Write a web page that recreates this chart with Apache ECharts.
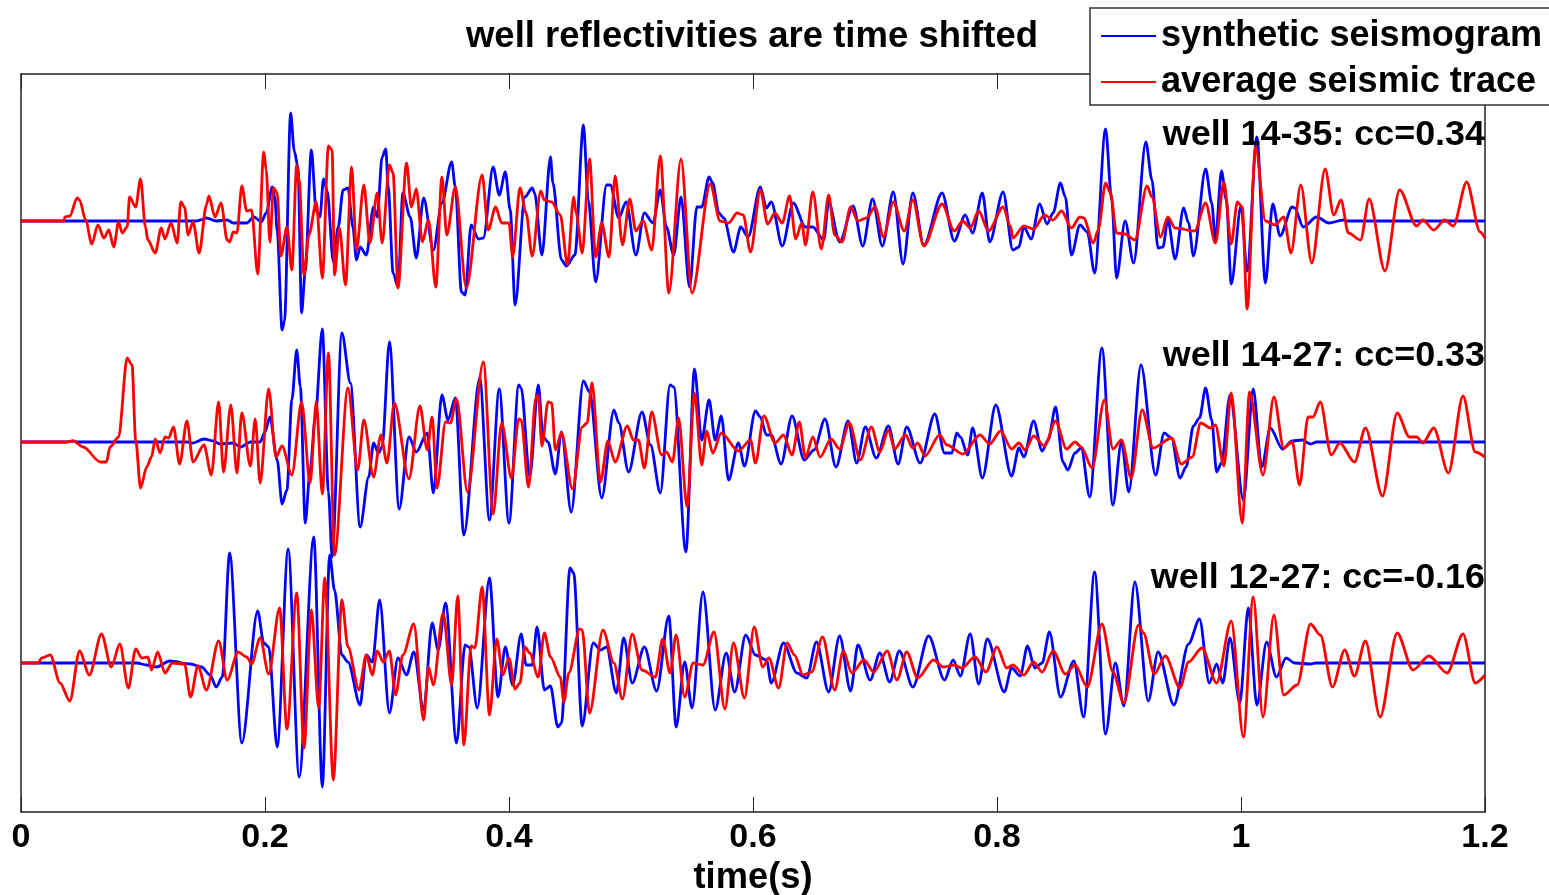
<!DOCTYPE html>
<html>
<head>
<meta charset="utf-8">
<style>
  html, body { margin: 0; padding: 0; background: #fff; overflow: hidden; }
  #main { width: 1549px; height: 895px; }
</style>
<script src="https://cdn.jsdelivr.net/npm/echarts@6/dist/echarts.min.js"></script>
</head>
<body>
<div id="main"></div>
<script>
// traces are [time in ms, amplitude] at the extrema
const synthetic1435 = [[0,0],[144,0],[147,1],[152,3],[160,0],[169,1],[174,-2],[185,-2],[191,4],[197,-1],[201,8],[206,34],[208,24],[210,-10],[214,-109],[216,-100],[221,108],[224,70],[227,54],[230,-92],[233,-50],[238,71],[242,10],[245,4],[248,42],[251,30],[256,-41],[260,-6],[264,31],[268,33],[272,-6],[275,-39],[278,-26],[283,-34],[289,14],[292,4],[296,64],[299,72],[301,34],[305,-52],[309,-66],[313,28],[319,4],[324,-37],[330,23],[338,-29],[345,18],[353,59],[356,34],[361,-71],[364,-74],[369,-4],[375,-18],[379,-17],[387,54],[392,26],[397,49],[401,11],[405,-84],[413,24],[419,33],[421,28],[427,-34],[434,64],[436,38],[443,-39],[447,-45],[454,-34],[461,96],[465,21],[471,-61],[480,36],[483,36],[490,3],[496,19],[504,-34],[511,8],[518,-2],[524,31],[529,-6],[535,-34],[541,24],[548,-66],[554,14],[558,14],[564,44],[567,38],[572,8],[576,3],[584,-31],[590,-6],[596,-16],[606,34],[611,13],[615,19],[624,-25],[633,18],[643,-6],[649,-6],[658,-19],[662,19],[671,-21],[682,15],[690,-25],[698,22],[706,-25],[715,29],[723,-43],[731,28],[740,-24],[755,28],[765,-20],[774,6],[780,-12],[788,28],[794,-21],[805,29],[813,-29],[818,-26],[822,-6],[828,-18],[835,17],[841,-3],[846,8],[852,38],[856,24],[861,-34],[868,-4],[874,-11],[880,-52],[889,92],[894,21],[898,-57],[905,0],[912,-42],[922,79],[927,41],[932,-27],[936,-26],[940,1],[946,-38],[953,13],[957,-2],[961,-35],[971,52],[976,18],[979,-19],[984,50],[988,21],[992,-63],[1000,15],[1005,-50],[1013,84],[1020,-62],[1026,17],[1032,-15],[1042,14],[1044,13],[1051,-6],[1062,4],[1072,-2],[1084,1],[1087,0],[1200,0]];
const average1435 = [[0,0],[35,0],[36,4],[40,5],[46,23],[48,21],[53,1],[58,-23],[63,-4],[68,-17],[72,-9],[76,-26],[80,-1],[83,-12],[87,-6],[89,24],[94,14],[98,42],[102,-6],[104,-19],[110,-32],[115,-7],[118,-18],[123,-2],[128,-22],[131,19],[134,14],[137,-14],[141,-1],[146,-32],[152,16],[154,25],[159,4],[164,18],[169,-19],[171,-21],[174,-11],[177,-12],[181,35],[185,10],[189,11],[194,-53],[199,69],[201,51],[204,-21],[207,33],[210,28],[213,-35],[218,-6],[222,-49],[226,56],[228,41],[232,-54],[236,-14],[242,19],[247,-57],[252,75],[255,71],[257,-54],[261,-7],[266,-64],[271,54],[275,-29],[281,36],[286,-22],[292,28],[296,-22],[302,56],[305,48],[309,-67],[316,58],[320,14],[324,32],[329,-21],[334,1],[340,-66],[345,44],[349,-14],[356,34],[365,-67],[378,46],[383,-9],[389,14],[394,-2],[400,-2],[403,-36],[409,33],[414,8],[419,-35],[426,30],[429,21],[435,19],[442,6],[448,-44],[453,24],[455,8],[460,-32],[466,62],[471,-36],[476,-2],[482,-36],[487,45],[493,-24],[499,22],[504,-10],[510,0],[517,-29],[524,65],[531,-72],[541,62],[550,-72],[565,37],[573,0],[580,-2],[587,8],[592,6],[598,-31],[606,31],[612,-3],[618,8],[624,-2],[630,25],[635,-18],[640,-2],[643,-24],[649,29],[656,-28],[662,26],[667,-14],[673,-21],[680,14],[686,0],[693,3],[700,14],[707,-16],[715,19],[724,-10],[731,21],[740,-25],[755,17],[765,-10],[772,0],[778,-7],[785,10],[793,-10],[805,14],[811,-5],[813,-17],[822,-5],[830,-8],[839,6],[846,1],[853,10],[861,-7],[868,4],[871,3],[879,-22],[883,-9],[889,38],[893,28],[898,-12],[905,-13],[913,-19],[923,35],[927,24],[934,-16],[940,4],[946,-7],[962,-10],[971,18],[979,-22],[986,39],[992,-23],[997,19],[1001,14],[1005,-88],[1012,74],[1020,0],[1028,-4],[1035,4],[1041,-32],[1049,36],[1058,-42],[1069,52],[1076,6],[1082,21],[1088,-12],[1098,-19],[1105,22],[1118,-50],[1130,31],[1144,-5],[1149,1],[1158,-9],[1167,1],[1174,-5],[1185,39],[1196,-11],[1200,-17]];

const synthetic1427 = [[0,0],[37,0],[42,1],[46,0],[136,0],[141,-1],[150,3],[158,1],[163,-2],[174,-1],[180,-5],[188,0],[196,0],[200,10],[204,25],[210,-18],[214,-62],[218,-48],[222,42],[226,92],[229,55],[233,-81],[237,-28],[241,22],[247,113],[252,-50],[255,-115],[263,109],[270,59],[278,-85],[285,-35],[289,-1],[293,-11],[296,-5],[302,100],[310,-67],[318,5],[324,-10],[333,9],[338,-51],[345,47],[350,22],[356,44],[363,-93],[376,64],[384,-78],[392,53],[400,-81],[408,57],[410,54],[417,-35],[424,57],[428,5],[432,0],[438,-32],[443,10],[451,-70],[461,61],[466,50],[476,-56],[486,32],[490,19],[498,-30],[509,30],[516,-3],[524,-51],[532,57],[535,55],[545,-110],[552,73],[558,2],[564,42],[569,2],[574,26],[580,-38],[588,-1],[593,-24],[602,31],[606,25],[611,7],[615,7],[623,-22],[632,26],[642,-18],[650,-8],[659,23],[668,-25],[678,21],[685,-21],[692,15],[701,-16],[711,16],[719,-22],[726,15],[737,-21],[749,28],[757,-11],[763,-11],[767,9],[770,5],[776,-13],[780,14],[788,-36],[799,37],[812,-34],[818,-6],[822,-15],[830,21],[837,-9],[842,2],[848,35],[854,-20],[858,-28],[864,-11],[869,-6],[876,-55],[886,94],[895,-63],[902,0],[908,-50],[918,77],[930,-33],[937,9],[943,4],[950,-36],[955,-25],[961,16],[966,24],[971,54],[976,22],[980,-30],[984,-21],[991,47],[1002,-58],[1010,53],[1017,-25],[1024,14],[1034,-7],[1042,1],[1050,2],[1057,-2],[1062,0],[1200,0]];
const average1427 = [[0,0],[37,0],[43,1],[51,-5],[65,-20],[70,-20],[73,-5],[80,5],[87,84],[91,77],[94,2],[98,-46],[103,-25],[107,-15],[110,3],[114,-11],[118,5],[121,4],[125,15],[130,-22],[136,21],[141,-20],[150,-3],[156,-33],[162,40],[166,-30],[172,37],[177,-31],[181,29],[188,-24],[192,23],[196,-41],[203,53],[209,-15],[214,-4],[222,-33],[230,40],[237,-41],[242,40],[247,-52],[252,89],[257,-113],[268,54],[276,-28],[281,22],[289,-35],[295,7],[300,-21],[306,39],[318,-37],[327,36],[333,-8],[337,25],[341,-46],[348,20],[352,19],[357,43],[366,-50],[379,80],[387,-72],[394,19],[402,-36],[408,23],[410,22],[416,-45],[422,44],[424,47],[427,-4],[432,40],[435,39],[438,-8],[443,9],[452,-47],[460,15],[464,19],[468,59],[475,-40],[481,1],[487,-20],[497,16],[502,2],[506,2],[511,-26],[517,30],[525,-13],[529,-10],[534,-20],[539,24],[546,-65],[552,49],[558,-23],[562,11],[567,-11],[574,9],[588,-9],[598,2],[602,-21],[609,26],[618,-1],[625,7],[632,-13],[638,20],[643,-16],[649,5],[655,-15],[664,3],[671,-7],[679,19],[688,-18],[697,15],[704,-10],[711,12],[716,-7],[725,7],[731,-6],[735,-1],[741,-14],[753,7],[759,-3],[772,-12],[786,7],[794,-2],[803,11],[812,-7],[818,-1],[823,-8],[830,6],[839,-4],[848,21],[857,-7],[864,0],[869,-5],[878,-26],[888,42],[895,-7],[902,2],[910,-36],[919,32],[928,-6],[943,4],[951,-22],[960,-15],[967,19],[975,14],[979,17],[986,-24],[992,49],[1001,-81],[1007,50],[1018,-33],[1027,45],[1035,-6],[1042,0],[1048,-43],[1055,25],[1059,25],[1065,40],[1074,-13],[1081,-1],[1093,-20],[1102,14],[1116,-54],[1128,29],[1138,5],[1144,5],[1149,-1],[1158,14],[1170,-31],[1182,46],[1192,-10],[1200,-15]];

const synthetic1227 = [[0,0],[87,0],[95,0],[103,-2],[111,-4],[122,2],[139,-1],[148,-4],[155,-12],[160,-24],[165,-14],[171,110],[181,-80],[194,52],[199,20],[203,16],[210,-84],[219,114],[228,-114],[240,126],[247,-124],[253,108],[257,73],[263,8],[268,1],[278,-42],[283,8],[288,1],[294,63],[302,-50],[309,5],[316,-12],[322,11],[330,-47],[337,40],[342,13],[348,60],[357,-80],[364,18],[367,16],[374,-45],[384,85],[391,-34],[397,16],[403,-22],[410,29],[414,-2],[419,-2],[423,36],[429,-27],[434,-23],[440,-64],[443,-60],[450,95],[453,90],[460,-63],[469,20],[475,13],[480,16],[488,-30],[494,25],[501,-20],[511,16],[521,-28],[531,47],[537,-64],[544,1],[550,-45],[559,71],[569,-47],[578,10],[585,-29],[594,28],[602,8],[611,3],[615,-20],[625,20],[636,-10],[644,-15],[652,21],[662,-29],[671,27],[680,-28],[686,18],[696,-17],[704,10],[712,-19],[720,12],[731,-24],[744,27],[757,-17],[764,3],[770,-13],[778,29],[785,-21],[792,24],[806,-29],[812,-5],[819,-13],[825,17],[831,-5],[837,0],[843,31],[852,-34],[863,2],[871,-54],[880,91],[889,-71],[897,0],[904,-43],[913,81],[924,-38],[932,11],[945,-42],[957,19],[966,44],[974,-20],[980,-1],[985,-20],[991,25],[999,-40],[1006,55],[1013,-42],[1021,21],[1029,-14],[1037,5],[1044,0],[1057,-1],[1061,0],[1200,0]];
const average1227 = [[0,0],[14,0],[17,5],[24,8],[32,-20],[40,-38],[48,12],[56,-12],[66,29],[74,-4],[81,19],[88,-25],[94,14],[99,5],[104,6],[107,-7],[112,11],[118,-10],[124,0],[134,-1],[139,-34],[145,-3],[152,-27],[162,22],[169,-17],[178,11],[185,6],[189,-1],[196,25],[203,-11],[212,55],[218,-66],[226,70],[232,-85],[238,53],[244,-45],[249,85],[256,-117],[263,63],[268,16],[277,-27],[283,8],[288,-12],[292,12],[297,1],[302,12],[307,-32],[313,8],[322,39],[330,-57],[334,-4],[338,-22],[346,50],[353,-22],[358,67],[363,-82],[369,17],[372,15],[378,76],[384,-52],[390,24],[395,-12],[400,5],[405,-26],[409,-20],[413,16],[417,10],[424,-14],[429,30],[434,6],[442,-14],[445,-39],[449,-10],[458,34],[460,33],[466,-50],[477,33],[486,0],[493,-36],[501,29],[509,-7],[520,-14],[526,24],[532,-10],[537,28],[544,-34],[551,0],[559,-2],[568,31],[577,-46],[584,20],[593,-35],[601,36],[608,-4],[613,5],[621,-25],[628,20],[634,8],[641,-12],[648,-9],[657,26],[667,-27],[674,12],[681,-10],[691,3],[699,-9],[710,12],[718,-17],[726,11],[735,-15],[748,3],[756,-4],[765,-2],[771,-5],[782,6],[791,-9],[800,16],[808,-5],[813,-2],[822,-12],[830,1],[837,-9],[846,12],[856,-11],[864,-2],[874,-24],[886,39],[895,-9],[904,-40],[916,38],[920,30],[929,-11],[938,7],[950,-25],[957,1],[968,15],[980,-20],[992,42],[1002,-74],[1010,66],[1018,-54],[1027,48],[1035,-32],[1046,-22],[1057,39],[1065,28],[1075,-24],[1085,13],[1093,-13],[1102,22],[1114,-54],[1128,30],[1141,-7],[1154,7],[1169,-10],[1182,29],[1192,-20],[1200,-12]];

const wellNames = ['well 14-35: cc=0.34', 'well 14-27: cc=0.33', 'well 12-27: cc=-0.16'];
const wellLabelY = [117, 338, 560];
const traceOffsets = [591, 370, 149];
const legendNames = ['synthetic seismogram', 'average seismic trace'];

const chart = echarts.init(document.getElementById('main'));

function shifted(trace, offset) {
  return trace.map(function (p) { return [p[0] / 1000, p[1] + offset]; });
}
function traceSeries(name, color, trace, offset) {
  return {
    name: name,
    type: 'line',
    data: shifted(trace, offset),
    symbol: 'none',
    smooth: 0.3,
    smoothMonotone: 'x',
    animation: false,
    clip: true,
    lineStyle: { color: color, width: 2.8 },
    itemStyle: { color: color }
  };
}

const font = 'Liberation Sans';
const frameLine = { onZero: false, lineStyle: { color: '#222', width: 1.5 } };
const series = [
  traceSeries(legendNames[0], '#0000ff', synthetic1435, traceOffsets[0]),
  traceSeries(legendNames[1], '#ff0000', average1435, traceOffsets[0]),
  traceSeries(legendNames[0], '#0000ff', synthetic1427, traceOffsets[1]),
  traceSeries(legendNames[1], '#ff0000', average1427, traceOffsets[1]),
  traceSeries(legendNames[0], '#0000ff', synthetic1227, traceOffsets[2]),
  traceSeries(legendNames[1], '#ff0000', average1227, traceOffsets[2])
];

chart.setOption({
  backgroundColor: '#fff',
  animation: false,
  title: {
    text: 'well reflectivities are time shifted',
    left: 747,
    top: 13,
    textAlign: 'center',
    textStyle: { fontFamily: font, fontWeight: 'bold', fontSize: 36.5, color: '#000' }
  },
  legend: {
    data: legendNames,
    orient: 'vertical',
    left: 1090,
    top: 8,
    // box runs off the right edge of the page like the original
    padding: [10, 50, 5, 10],
    itemWidth: 55,
    itemHeight: 2,
    itemGap: 10,
    backgroundColor: '#fff',
    borderColor: '#333',
    borderWidth: 1.5,
    borderRadius: 0,
    lineStyle: { width: 2 },
    textStyle: { fontFamily: font, fontWeight: 'bold', fontSize: 36.1, color: '#000' }
  },
  grid: { left: 21, top: 74, width: 1464, height: 738, outerBoundsMode: 'none' },
  xAxis: [{
    type: 'value',
    min: 0,
    max: 1.2,
    interval: 0.2,
    name: 'time(s)',
    nameLocation: 'middle',
    nameGap: 46,
    nameTextStyle: { fontFamily: font, fontWeight: 'bold', fontSize: 36.3, color: '#000' },
    axisLine: frameLine,
    axisTick: { inside: true, length: 15, lineStyle: { color: '#222', width: 1 } },
    axisLabel: { margin: 9, fontFamily: font, fontWeight: 'bold', fontSize: 34, color: '#000' },
    splitLine: { show: false }
  }, {
    type: 'value',
    position: 'top',
    min: 0,
    max: 1.2,
    interval: 0.2,
    axisLine: frameLine,
    axisTick: { inside: true, length: 15, lineStyle: { color: '#222', width: 1 } },
    axisLabel: { show: false },
    splitLine: { show: false }
  }],
  yAxis: [{
    type: 'value',
    min: 0,
    max: 738,
    axisLine: Object.assign({ show: true }, frameLine),
    axisTick: { show: false },
    axisLabel: { show: false },
    splitLine: { show: false }
  }, {
    type: 'value',
    position: 'right',
    min: 0,
    max: 738,
    axisLine: Object.assign({ show: true }, frameLine),
    axisTick: { show: false },
    axisLabel: { show: false },
    splitLine: { show: false }
  }],
  graphic: wellNames.map(function (name, i) {
    return {
      type: 'text',
      z: 100,
      right: 64,
      top: wellLabelY[i],
      style: { text: name, fill: '#000', font: 'bold 35.9px "Liberation Sans"' }
    };
  }),
  series: series
});
</script>
</body>
</html>
